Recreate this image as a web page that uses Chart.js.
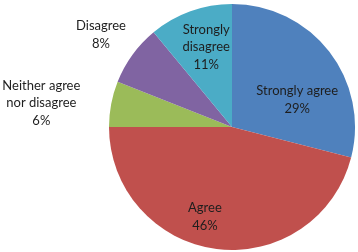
<!DOCTYPE html>
<html>
<head>
<meta charset="utf-8">
<script src="https://cdn.jsdelivr.net/npm/chart.js@4/dist/chart.umd.min.js"></script>
<style>
  html, body { margin: 0; padding: 0; background: #fff; }
  #wrap { width: 358px; height: 252px; }
</style>
</head>
<body>
<div id="wrap"><canvas id="pie"></canvas></div>
<script>
const categories = ["Strongly agree", "Agree", "Neither agree nor disagree", "Disagree", "Strongly disagree"];
const shares = [29, 46, 6, 8, 11];
const labelLines = [
  ["Strongly agree", "29%"],
  ["Agree", "46%"],
  ["Neither agree", "nor disagree", "6%"],
  ["Disagree", "8%"],
  ["Strongly", "disagree", "11%"]
];
const colors = ["#4F81BD", "#C0504D", "#9BBB59", "#8064A2", "#4BACC6"];

// label centre offsets, in units of the pie radius
const labelOffsets = [
  [0.53, -0.22],
  [-0.22, 0.73],
  [-1.55, -0.195],
  [-1.065, -0.75],
  [-0.21, -0.65]
];

const pieLabels = {
  id: "pieLabels",
  afterDatasetsDraw(chart) {
    const ctx = chart.ctx;
    const arcs = chart.getDatasetMeta(0).data;
    ctx.save();
    ctx.font = "13px Lato, 'Open Sans', sans-serif";
    ctx.fillStyle = "#1e1e1e";
    ctx.textAlign = "center";
    ctx.textBaseline = "middle";
    const lineH = 17.5;
    arcs.forEach((arc, i) => {
      const r = arc.outerRadius;
      const cx = arc.x + labelOffsets[i][0] * r;
      const cy = arc.y + labelOffsets[i][1] * r;
      const lines = labelLines[i];
      const top = cy - (lines.length - 1) * lineH / 2;
      lines.forEach((t, k) => ctx.fillText(t, cx, top + k * lineH));
    });
    ctx.restore();
  }
};

new Chart(document.getElementById("pie"), {
  type: "pie",
  data: {
    labels: categories,
    datasets: [{ data: shares, backgroundColor: colors, borderWidth: 0 }]
  },
  options: {
    responsive: true,
    maintainAspectRatio: false,
    animation: false,
    layout: { padding: { left: 109, right: 3, top: 4, bottom: 2 } },
    plugins: { legend: { display: false }, tooltip: { enabled: false } }
  },
  plugins: [pieLabels]
});
</script>
</body>
</html>
